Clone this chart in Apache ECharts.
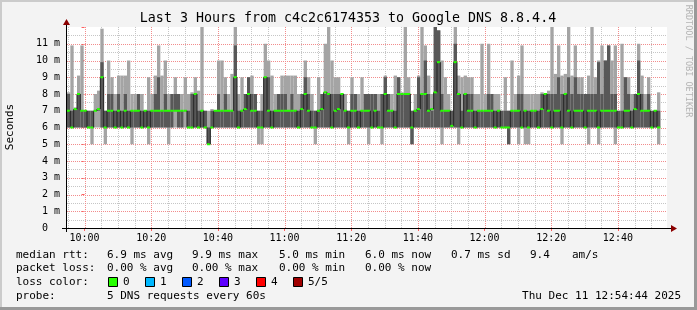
<!DOCTYPE html>
<html><head><meta charset="utf-8">
<script src="https://cdn.jsdelivr.net/npm/echarts@6/dist/echarts.min.js"></script>
<style>html,body{margin:0;padding:0;background:#f3f3f3}#c{width:697px;height:310px}</style>
</head><body><div id="c"></div>
<script>
// ---- data (ms) : one column per minute, 09:54:44 .. 12:54:44 ----
const hi = [8.1,10.9,7.2,9.1,10.9,7,7,7,8,8.2, 11.9,7,10,9,8,9.1,9.1,9.1,10,8, 8,8,8,7,9,8,9.1,10.9,9.1,10, 8,8,9,8,8,9,8,8.1,9,8.2, 12,7,7,7.1,7,
 10,10,9,8,9.2, 12,8,9,8,9, 9.1,8,7,8,11, 10,9.1,8,8,9.1, 9.1,9.1,9.1,9.1,8, 8,10,9,8,7, 9,8,11,12,10, 9,9,8,8,7, 9,8,8,9,8,
 8,8,8,8,8, 9.1,8,8,9.1,9, 8.1,12,9,7,8, 9.1,12,10.9,9.1,8, 12,11.8,10,9,8, 7,12,9.1,9,9.1, 9,9,8,8,11, 8,11,8,8,8, 7,9,7,10,8,
 9.1,10.9,8,8,8, 8,8,8.1,8,8.2, 12,9.2,10.9,9.1,9.2, 12,9.1,10.9,9,9, 8,9.1,12,9,10, 10.9,10,10.9,10,10.9, 7,11,9,9,8, 8,11,9.1,8,9, 7,7,8.1,null,null];
const q3 = [8,7,7.1,8,7,7,7,7,7,7.1, 9.9,7,8,8,7,8,7,8,7,7, 7,8,7,7,7,7,8,9,7,8, 7,8,8,8,7,7,7,8,8,7, 7,7,6,7,7,
 8,7,8,7,7, 10.9,7,7,8,9, 8,8,7,7,9, 9,7,7,8,8, 8,7,8,7,7, 8,9,8,7,7, 7,8,8,8,8, 8,8,8,7,7, 8,8,7,7,8,
 8,8,8,7,8, 9,8,7,7,9, 8,8,8,7,7, 9,8,10,8,7, 12,11.8,8,7,7, 7,11,8,7,8, 8,8,7,7,7, 7,8,8,7,7, 7,7,7,7,7,
 8,8,7,7,7, 7,7,8,8,8, 8,8,9,8,8, 9,8,9,8,8, 8,8,8,8,9.9, 8,10,10.9,8,8, 7,7,9,8,7, 8,10,8,7,8, 7,7,7,null,null];
const median = [7,6,7.1,8,7,7,6,6,7,7.1, 9,6,7,7,6,7,6,7,6,7, 7,7,6,7,6,7,7,7,7,7, 7,7,7,7,7,7,6,6,8,6, 7,6,5,6,7,
 7,7,7,7,7, 9,6,7,7.1,8, 7,7,6,6,9, 7,6,7,7,7, 7,7,7,7,6, 7.1,8,7,6,6, 7,7.1,8.1,8,6, 7,7.1,8,7,6, 7,7,6,7,7,
 7,6,7,6,6, 8,7,7,6,8, 8,8,8,6,7, 7.1,8,8,7,7.1, 8.1,9.9,7,7,7, 6.1,9.9,8,6,8, 7,7,6,7,7, 7,7,7,6,7, 6,6,6,7,7,
 7,6,7,6,7, 7,6,7.1,8,7, 6,7,7,6,8, 7,6,7,7,7, 6,7,7,7,6, 7,7,7,7,7, 6,6,7,7,6, 7.1,8,7,7,7, 6,7,6,null,null];
const q1 = [6,6,6,6,6,6,6,6,7,7, 6,6,6,6,6,6,6,6,6,6, 6,6,6,6,6,6,6,6,6,6, 6,6,7,6,6,7,6,6,6,6, 6,6,5,6,6,
 6,6,6,6,6, 6,6,6,6,6, 6,6,6,6,6, 6,6,6,6,6, 6,6,6,6,6, 6,6,6,6,6, 6,6,6,6,6, 6,6,6,6,6, 6,6,6,6,6,
 6,6,6,6,6, 6,6,6,6,6, 6,6,6,5,6, 6,6,6,6,6, 6,6,6,6,6, 6,6,6,6,6, 6,6,6,6,6, 6,6,6,6,6, 6,6,5,6,6,
 6,6,6,6,6, 6,6,6,6,6, 6,6,6,6,6, 6,6,6,6,6, 6,6,6,6,6, 6,6,6,6,6, 6,6,6,6,6, 6,6,6,6,6, 6,6,6,null,null];
const lo = [6,6,6,6,6,6,6,5,6,6, 6,5,6,6,6,6,6,6,6,5, 6,6,6,6,5,6,6,6,6,6, 5,6,6,6,6,6,6,6,6,6, 6,6,5,6,6,
 6,6,6,6,6, 6,6,6,6,6, 6,6,5,5,6, 6,6,6,6,6, 6,6,6,6,6, 6,6,6,6,5, 6,6,6,6,6, 6,6,6,6,5, 6,6,6,6,6,
 5,6,6,6,5, 6,6,6,6,6, 6,6,6,5,6, 6,6,6,6,6, 6,6,5,6,6, 6,6,5,6,6, 6,6,6,6,6, 6,6,6,6,6, 6,6,5,6,6,
 5,6,5,5,6, 6,6,6,6,6, 6,6,6,5,6, 6,6,6,6,6, 6,5,6,6,5, 6,6,6,6,5, 6,6,6,6,6, 6,6,6,6,6, 6,6,5,null,null];

// time axis in minutes relative to 10:00
const startMin = -5.2667;   // 09:54:44
const endMin = 174.7333;    // 12:54:44
const xLabelTicks = [0,20,40,60,80,100,120,140,160];
const xMinorTicks = [-5,5,10,15,25,30,35,45,50,55,65,70,75,85,90,95,105,110,115,125,130,135,145,150,155,165,170];
const yMajorTicks = [1,2,3,4,5,6,7,8,9,10,11];
const yMinorTicks = [0.5,1.5,2.5,3.5,4.5,5.5,6.5,7.5,8.5,9.5,10.5,11.5];

const statsRtt = ['6.9 ms avg','9.9 ms max','5.0 ms min','6.0 ms now','0.7 ms sd','9.4','am/s'];
const statsLoss = ['0.00 % avg','0.00 % max','0.00 % min','0.00 % now'];
const lossLabels = ['0','1','2','3','4','5/5'];
const lossColors = ['#26ff00','#00b8ff','#0059ff','#5e00ff','#ff0000','#a00000'];
const probeText = '5 DNS requests every 60s';
const dateText = 'Thu Dec 11 12:54:44 2025';
const titleText = 'Last 3 Hours from c4c2c6174353 to Google DNS 8.8.4.4';

const MONO = '"DejaVu Sans Mono", "Liberation Mono", monospace';
function fmtTime(m){ const h = 10 + Math.floor(m/60); const mm = ((m%60)+60)%60; return h + ':' + String(mm).padStart(2,'0'); }

const data = [];
for (let k = 0; k < hi.length; k++) {
  if (hi[k] == null) continue;
  const prev = (k > 0 && median[k-1] != null) ? median[k-1] : median[k];
  data.push([startMin + k, startMin + k + 1, lo[k], q1[k], median[k], q3[k], hi[k], prev]);
}

function renderItem(params, api) {
  const t0 = api.value(0), t1 = api.value(1);
  const vLo = api.value(2), vQ1 = api.value(3), vMed = api.value(4), vQ3 = api.value(5), vHi = api.value(6), vPrev = api.value(7);
  const x0 = api.coord([t0, 0])[0], x1 = api.coord([t1, 0])[0];
  const yLo = api.coord([t0, vLo])[1], yHi = api.coord([t0, vHi])[1];
  const yQ1 = api.coord([t0, vQ1])[1], yQ3 = api.coord([t0, vQ3])[1];
  const yMed = api.coord([t0, vMed])[1], yPrev = api.coord([t0, vPrev])[1];
  const w = x1 - x0;
  return {type:'group', children:[
    {type:'rect', shape:{x:x0, y:yHi, width:w, height:yLo - yHi}, style:{fill:'#a4a4a4'}},
    {type:'rect', shape:{x:x0, y:yQ3, width:w, height:yQ1 - yQ3}, style:{fill:'#585858'}},
    {type:'line', shape:{x1:x0, y1:yPrev, x2:x0, y2:yMed}, style:{stroke:'#202020', lineWidth:1}},
    {type:'rect', shape:{x:x0, y:yMed - 1, width:w, height:2}, style:{fill:lossColors[0]}}
  ]};
}

// grid lines: [direction (0 = vertical at x value, 1 = horizontal at y value), value, major flag]
const gridItems = [];
xMinorTicks.forEach(v => gridItems.push([0, v, 0]));
yMinorTicks.forEach(v => gridItems.push([1, v, 0]));
xLabelTicks.forEach(v => gridItems.push([0, v, 1]));
yMajorTicks.forEach(v => gridItems.push([1, v, 1]));
const MAJOR = '#f28c8c';
const MINOR = '#c6c6c6';
function renderGrid(params, api) {
  const cs = params.coordSys;
  const dir = api.value(0), v = api.value(1), major = api.value(2);
  const style = {stroke: major ? MAJOR : MINOR, lineWidth:1, lineDash:[1,1]};
  if (dir === 0) {
    const x = Math.round(api.coord([v, 0])[0]) + 0.5;
    return {type:'line', shape:{x1:x, y1:cs.y, x2:x, y2:cs.y + cs.height}, style};
  } else {
    const y = Math.round(api.coord([startMin, v])[1]) + 0.5;
    return {type:'line', shape:{x1:cs.x, y1:y, x2:cs.x + cs.width, y2:y}, style};
  }
}

const graphic = [];
graphic.push({type:'rect', shape:{x:0,y:0,width:697,height:2}, style:{fill:'#cbcbcb'}, silent:true});
graphic.push({type:'rect', shape:{x:0,y:0,width:2,height:310}, style:{fill:'#cbcbcb'}, silent:true});
graphic.push({type:'rect', shape:{x:0,y:307,width:697,height:3}, style:{fill:'#999999'}, silent:true});
graphic.push({type:'rect', shape:{x:694,y:0,width:3,height:310}, style:{fill:'#999999'}, silent:true});
graphic.push({type:'text', style:{text:titleText, x:348, y:19, font:'13.3px ' + MONO, fill:'#000', textAlign:'center', textVerticalAlign:'middle'}});
graphic.push({type:'text', x:10, y:127, rotation:Math.PI/2, style:{text:'Seconds', x:0, y:0, font:'11px ' + MONO, fill:'#000', textAlign:'center', textVerticalAlign:'middle'}});
graphic.push({type:'text', x:688, y:61, rotation:-Math.PI/2, style:{text:'RRDTOOL / TOBI OETIKER', x:0, y:0, font:'8.5px ' + MONO, fill:'#b4b4b4', textAlign:'center', textVerticalAlign:'middle'}});
graphic.push({type:'line', z:10, shape:{x1:66.5,y1:22,x2:66.5,y2:232}, style:{stroke:'#000', lineWidth:1}});
graphic.push({type:'line', z:10, shape:{x1:62,y1:228.5,x2:672,y2:228.5}, style:{stroke:'#000', lineWidth:1}});
graphic.push({type:'polygon', z:10, shape:{points:[[63,25],[70,25],[66.5,19]]}, style:{fill:'#8b0000'}});
graphic.push({type:'polygon', z:10, shape:{points:[[671,225],[671,232],[677,228.5]]}, style:{fill:'#8b0000'}});
const colX = [107,192,279,365,451,530,572];
function txt(s, x, y, align){ graphic.push({type:'text', style:{text:s, x:x, y:y, font:'11px ' + MONO, fill:'#000', textAlign:align||'left', textVerticalAlign:'middle'}}); }
txt('median rtt:', 16, 255);
statsRtt.forEach((s,i)=>txt(s, colX[i], 255));
txt('packet loss:', 16, 268.5);
statsLoss.forEach((s,i)=>txt(s, colX[i], 268.5));
txt('loss color:', 16, 282);
lossLabels.forEach((s,i)=>{
  const bx = 108 + i*37;
  graphic.push({type:'rect', shape:{x:bx+0.5, y:277.5, width:9, height:9}, style:{fill:lossColors[i], stroke:'#000', lineWidth:1}});
  txt(s, bx + 15, 282);
});
txt('probe:', 16, 296);
txt(probeText, 107, 296);
txt(dateText, 681, 296, 'right');

const chart = echarts.init(document.getElementById('c'), null, {renderer:'canvas'});
chart.setOption({
  animation:false,
  backgroundColor:'#f3f3f3',
  grid:{left:67, right:30, top:27, bottom:82, show:true, backgroundColor:'#ffffff', borderWidth:0},
  xAxis:{type:'value', min:startMin, max:endMin,
     axisLine:{show:false},
     axisTick:{show:true, customValues:xLabelTicks, length:3, lineStyle:{color:'#ff6060'}},
     axisLabel:{show:true, customValues:xLabelTicks, formatter:fmtTime, fontFamily:MONO, fontSize:10, color:'#000', margin:5},
     splitLine:{show:false}},
  yAxis:{type:'value', min:0, max:12, interval:1,
     axisLine:{show:false},
     axisTick:{show:true, length:3, lineStyle:{color:'#ff6060'}},
     axisLabel:{formatter:v => v === 0 ? '0\u00a0\u00a0' : (v >= 12 ? '' : v + ' m'), fontFamily:MONO, fontSize:10, color:'#000', margin:7},
     splitLine:{show:false}},
  series:[
    {type:'custom', renderItem:renderGrid, data:gridItems, z:1, clip:true, silent:true,
     encode:{x:-1, y:-1}},
    {type:'custom', renderItem:renderItem, data:data, z:2,
     encode:{x:[0,1], y:[2,6]}, clip:true, silent:true}
  ],
  graphic:graphic
});
</script></body></html>
